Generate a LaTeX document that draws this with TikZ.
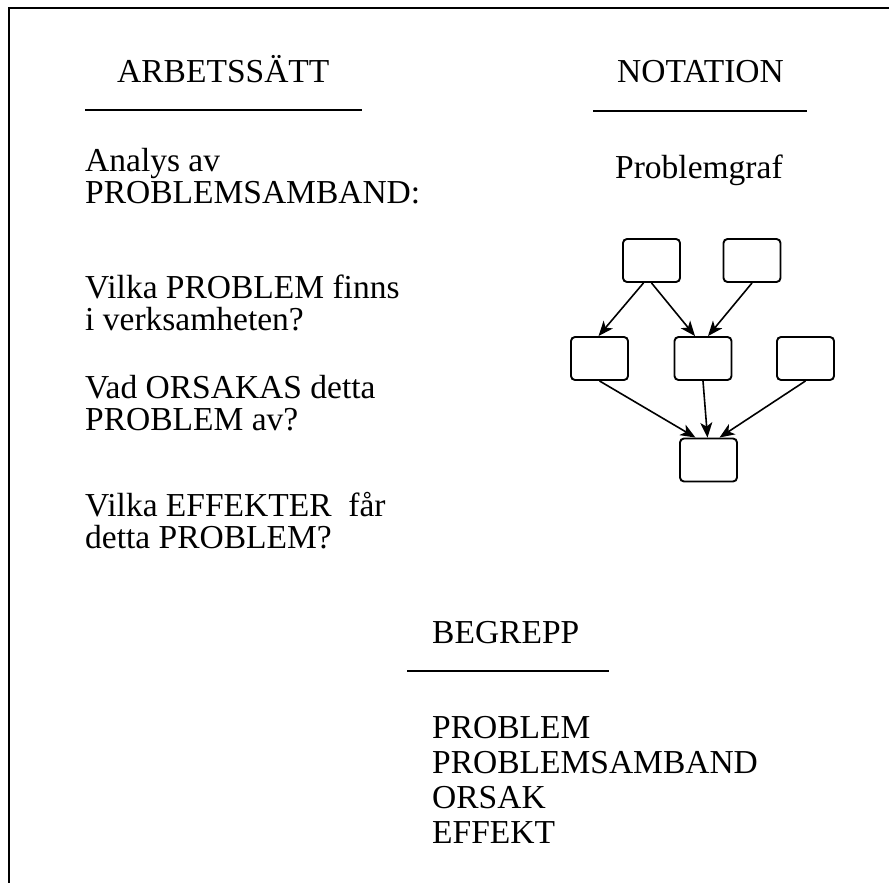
\documentclass[tikz,border=0pt]{standalone}
\usepackage{fontspec}
\setmainfont{Liberation Serif}
\usetikzlibrary{arrows.meta, positioning}

\tikzset{
  txt/.style={anchor=base west, inner sep=0pt, align=left, font=\fontsize{33.5}{31.5}\selectfont},
  lst/.style={txt, font=\fontsize{33.5}{35}\selectfont},
  pbox/.style={draw, line width=1.9pt, rounded corners=4pt, minimum width=57pt, minimum height=43pt, inner sep=0pt},
  rule/.style={line width=1.8pt},
}

\begin{document}
\begin{tikzpicture}[x=1pt,y=-1pt,>={Stealth[length=15pt,width=12pt,inset=4pt]}]
        \useasboundingbox (0,0) rectangle (889,883);
        \draw[line width=2.5pt] (889,8) -- (9,8) -- (9,883);

        % rubriker
        \node[txt] (arb)  at (117,83)  {ARBETSSÄTT};
        \node[txt] (not)  at (617,83)  {NOTATION};
        \node[txt] (beg)  at (432,643) {BEGREPP};
        \draw[rule] (85,110)  -- (362,110);
        \draw[rule] (593,111) -- (807,111);
        \draw[rule] (407,671) -- (609,671);

        % arbetssatt (ankare = sista radens baslinje)
        \node[txt] (fr1) at (85,203) {Analys av\\PROBLEMSAMBAND:};
        \node[txt] (fr2) at (85,330) {Vilka PROBLEM finns\\i verksamheten?};
        \node[txt] (fr3) at (85,430) {Vad ORSAKAS detta\\PROBLEM av?};
        \node[txt] (fr4) at (85,548) {Vilka EFFEKTER\ \ får\\detta PROBLEM?};

        % begrepp
        \node[lst] (lista) at (432,843) {PROBLEM\\PROBLEMSAMBAND\\ORSAK\\EFFEKT};

        % problemgraf
        \node[txt] (graf) at (615,178) {Problemgraf};
        \node[pbox] (ta) at (651.5,260.5) {};
        \node[pbox] (tb) at (752,260.5)   {};
        \node[pbox] (ma) at (599.5,358.5) {};
        \node[pbox] (mb) at (703,358.5)   {};
        \node[pbox] (mc) at (805.5,358.5) {};
        \node[pbox] (bo) at (708.5,460)   {};

        \path[->, line width=1.6pt]
        ([xshift=-8pt]ta.south) edge ([xshift=-1pt]ma.north)
        (ta.south) edge ([xshift=-8pt]mb.north)
        (tb.south) edge ([xshift=5pt]mb.north)
        (ma.south) edge ([xshift=-13pt]bo.north)
        (mb.south) edge ([xshift=-1pt]bo.north)
        (mc.south) edge ([xshift=11pt]bo.north)
        ;
    \end{tikzpicture}
\end{document}
